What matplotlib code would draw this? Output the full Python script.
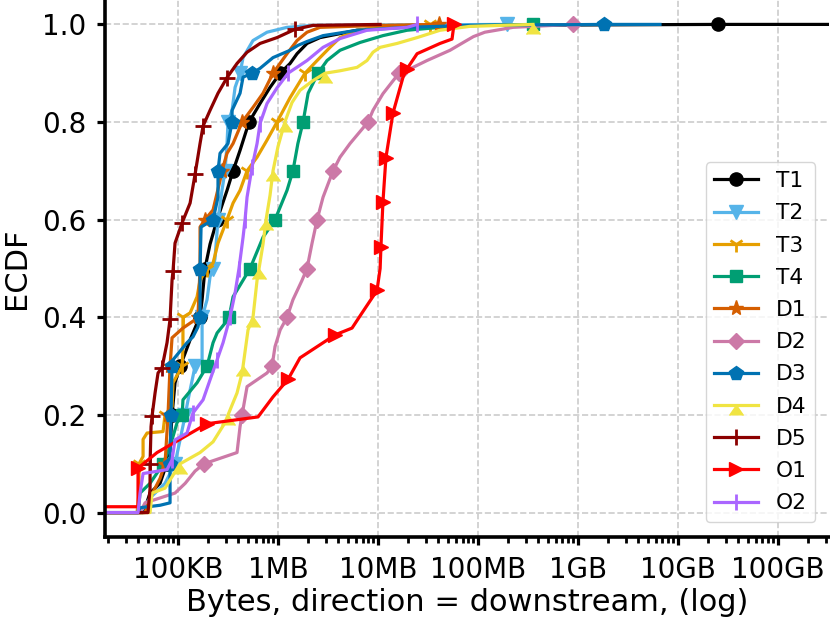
import matplotlib
matplotlib.use("Agg")
import matplotlib.pyplot as plt
import numpy as np

# ---------------- data (bytes, ECDF) ----------------
T1_x = [1.86e4, 4.47e4, 4.68e4, 5.25e4, 6.61e4, 7.41e4, 7.76e4, 8.32e4, 8.71e4, 9.33e4,
        1.05e5, 1.18e5, 1.32e5, 1.55e5, 1.66e5, 1.74e5, 1.86e5, 2.09e5, 2.46e5, 3.09e5,
        3.55e5, 4.17e5, 5.13e5, 6.61e5, 8.32e5, 1.05e6, 1.32e6, 1.55e6, 1.95e6, 2.63e6,
        6.17e6, 1.32e7, 8.32e7, 2.51e10, 3.24e11]
T1_y = [0.0, 0.0, 0.01, 0.04, 0.06, 0.09, 0.10, 0.135, 0.20, 0.266,
        0.30, 0.327, 0.354, 0.388, 0.40, 0.436, 0.50, 0.55, 0.60, 0.66,
        0.70, 0.742, 0.80, 0.838, 0.871, 0.90, 0.92, 0.94, 0.961, 0.973,
        0.988, 0.994, 0.998, 1.0, 1.0]

T2_x = [1.86e4, 4.17e4, 5.25e4, 7.41e4, 9.33e4, 1.05e5, 1.18e5, 1.26e5, 1.48e5, 1.74e5,
        1.74e5, 1.95e5, 2.09e5, 2.24e5, 2.34e5, 2.51e5, 2.75e5, 2.95e5, 3.09e5, 3.16e5,
        3.47e5, 3.72e5, 4.17e5, 4.47e5, 5.62e5, 7.76e5, 1.23e6, 2.24e6, 1.95e8]
T2_y = [0.0, 0.0, 0.03, 0.06, 0.10, 0.15, 0.20, 0.231, 0.30, 0.313,
        0.40, 0.436, 0.483, 0.50, 0.52, 0.60, 0.66, 0.70, 0.756, 0.80,
        0.824, 0.871, 0.90, 0.932, 0.967, 0.984, 0.994, 0.998, 1.0]

T3_x = [1.86e4, 3.89e4, 4.07e4, 4.07e4, 4.47e4, 4.47e4, 4.90e4, 7.08e4, 7.41e4, 8.71e4,
        8.91e4, 1.10e5, 1.12e5, 1.12e5, 1.32e5, 1.55e5, 1.66e5, 1.95e5, 2.24e5, 2.51e5,
        3.09e5, 3.55e5, 4.17e5, 4.90e5, 6.17e5, 7.76e5, 9.77e5, 1.32e6, 1.86e6, 2.46e6,
        3.31e6, 4.17e6, 6.17e6, 1.05e7, 3.31e7]
T3_y = [0.0, 0.0, 0.04, 0.10, 0.115, 0.15, 0.163, 0.166, 0.20, 0.217,
        0.266, 0.30, 0.34, 0.40, 0.409, 0.442, 0.476, 0.50, 0.511, 0.552,
        0.60, 0.634, 0.66, 0.70, 0.728, 0.763, 0.80, 0.85, 0.90, 0.926,
        0.953, 0.973, 0.988, 0.994, 1.0]

T4_x = [1.86e4, 3.98e4, 4.17e4, 5.25e4, 6.61e4, 7.08e4, 8.32e4, 9.77e4, 1.10e5, 1.12e5,
        1.55e5, 1.95e5, 2.24e5, 2.46e5, 2.95e5, 3.24e5, 3.55e5, 4.47e5, 5.25e5, 7.08e5,
        9.33e5, 1.23e6, 1.41e6, 1.58e6, 1.78e6, 2.0e6, 2.51e6, 3.09e6, 4.17e6, 6.61e6,
        1.12e7, 1.95e7, 4.17e7, 1.05e8, 3.55e8]
T4_y = [0.0, 0.0, 0.04, 0.06, 0.09, 0.10, 0.135, 0.184, 0.20, 0.231,
        0.266, 0.30, 0.348, 0.368, 0.388, 0.40, 0.442, 0.476, 0.50, 0.564,
        0.60, 0.66, 0.70, 0.756, 0.80, 0.859, 0.90, 0.926, 0.947, 0.963,
        0.977, 0.988, 0.994, 0.998, 1.0]

D1_x = [1.86e4, 4.68e4, 5.25e4, 6.61e4, 7.41e4, 7.94e4, 8.32e4, 8.71e4, 1.12e5, 1.48e5,
        1.58e5, 1.66e5, 1.66e5, 1.86e5, 2.24e5, 2.63e5, 2.75e5, 3.09e5, 3.55e5, 4.17e5,
        4.37e5, 5.62e5, 7.08e5, 8.91e5, 1.23e6, 1.55e6, 1.95e6, 2.63e6, 1.05e7, 4.07e7]
D1_y = [0.0, 0.0, 0.03, 0.07, 0.10, 0.20, 0.30, 0.358, 0.378, 0.395,
        0.40, 0.50, 0.585, 0.60, 0.62, 0.68, 0.70, 0.736, 0.756, 0.79,
        0.80, 0.83, 0.859, 0.90, 0.94, 0.967, 0.984, 0.994, 0.998, 1.0]

D2_x = [1.86e4, 4.17e4, 4.68e4, 6.61e4, 9.33e4, 1.18e5, 1.48e5, 1.82e5, 3.89e5, 4.17e5,
        4.37e5, 4.90e5, 7.76e5, 8.71e5, 9.33e5, 1.05e6, 1.23e6, 1.41e6, 1.74e6, 1.95e6,
        2.19e6, 2.46e6, 2.82e6, 3.55e6, 4.17e6, 5.25e6, 7.94e6, 8.91e6, 1.12e7, 1.62e7,
        2.24e7, 3.09e7, 5.25e7, 7.41e7, 9.0e7, 1.17e8, 2.24e8, 8.91e8]
D2_y = [0.0, 0.0, 0.02, 0.03, 0.04, 0.06, 0.085, 0.10, 0.123, 0.176,
        0.20, 0.258, 0.286, 0.30, 0.34, 0.374, 0.40, 0.436, 0.476, 0.50,
        0.552, 0.60, 0.646, 0.70, 0.728, 0.756, 0.80, 0.824, 0.858, 0.90,
        0.912, 0.926, 0.947, 0.965, 0.975, 0.984, 0.994, 1.0]

D3_x = [1.86e4, 3.98e4, 4.17e4, 6.61e4, 8.32e4, 8.32e4, 8.51e4, 8.71e4, 8.91e4, 1.23e5,
        1.41e5, 1.58e5, 1.66e5, 1.66e5, 1.70e5, 2.24e5, 2.51e5, 2.51e5, 2.63e5, 3.16e5,
        3.47e5, 3.47e5, 4.17e5, 4.47e5, 5.50e5, 6.61e5, 8.91e5, 1.32e6, 1.58e6, 1.95e6,
        2.82e6, 6.17e6, 1.95e7, 8.32e7, 1.82e9, 6.61e9]
D3_y = [0.0, 0.0, 0.01, 0.015, 0.02, 0.10, 0.20, 0.30, 0.313, 0.348,
        0.36, 0.38, 0.40, 0.50, 0.585, 0.60, 0.646, 0.70, 0.736, 0.756,
        0.80, 0.824, 0.859, 0.892, 0.90, 0.91, 0.932, 0.947, 0.957, 0.965,
        0.977, 0.988, 0.994, 0.998, 1.0, 1.0]

D4_x = [1.86e4, 5.25e4, 5.50e4, 7.41e4, 8.32e4, 1.05e5, 1.66e5, 2.24e5, 2.95e5, 3.16e5,
        3.89e5, 4.37e5, 4.47e5, 5.01e5, 5.62e5, 6.17e5, 6.46e5, 7.08e5, 7.59e5, 8.32e5,
        8.91e5, 1.0e6, 1.17e6, 1.38e6, 1.66e6, 2.24e6, 2.95e6, 4.17e6, 6.17e6, 7.76e6,
        8.91e6, 1.05e7, 1.55e7, 2.46e7, 4.17e7, 8.32e7, 3.55e8]
D4_y = [0.0, 0.0, 0.04, 0.05, 0.067, 0.10, 0.123, 0.145, 0.184, 0.20,
        0.245, 0.286, 0.30, 0.374, 0.40, 0.476, 0.50, 0.55, 0.60, 0.65,
        0.70, 0.75, 0.80, 0.84, 0.865, 0.885, 0.90, 0.905, 0.912, 0.926,
        0.943, 0.953, 0.961, 0.973, 0.988, 0.996, 1.0]

D5_x = [1.86e4, 5.01e4, 5.25e4, 5.25e4, 5.37e4, 5.50e4, 5.89e4, 6.31e4, 6.92e4, 7.76e4,
        8.32e4, 8.71e4, 8.91e4, 9.33e4, 1.10e5, 1.32e5, 1.48e5, 1.66e5, 1.78e5, 2.09e5,
        2.51e5, 3.09e5, 3.89e5, 4.90e5, 6.61e5, 9.77e5, 1.48e6, 2.24e6, 1.05e7]
D5_y = [0.0, 0.0, 0.05, 0.099, 0.176, 0.198, 0.245, 0.286, 0.297, 0.348,
        0.396, 0.476, 0.495, 0.552, 0.594, 0.634, 0.693, 0.756, 0.792, 0.824,
        0.859, 0.891, 0.92, 0.943, 0.961, 0.973, 0.99, 0.998, 1.0]

O1_x = [1.86e4, 3.98e4, 3.98e4, 6.17e4, 1.95e5, 6.31e5, 8.91e5, 1.26e6, 1.66e6, 3.72e6,
        5.50e6, 6.92e6, 9.77e6, 1.05e7, 1.07e7, 1.12e7, 1.20e7, 1.41e7, 1.78e7, 1.95e7,
        2.46e7, 4.17e7, 5.50e7, 5.75e7]
O1_y = [0.012, 0.012, 0.091, 0.123, 0.182, 0.196, 0.237, 0.273, 0.317, 0.364,
        0.378, 0.409, 0.455, 0.50, 0.545, 0.636, 0.727, 0.818, 0.892, 0.909,
        0.94, 0.961, 0.97, 1.0]

O2_x = [1.86e4, 3.98e4, 4.17e4, 4.47e4, 7.76e4, 8.71e4, 9.33e4, 1.23e5, 1.41e5, 1.78e5,
        2.09e5, 2.46e5, 2.82e5, 3.31e5, 3.72e5, 4.07e5, 4.47e5, 4.68e5, 4.90e5, 5.50e5,
        6.17e5, 6.61e5, 7.76e5, 9.77e5, 1.26e6, 1.95e6, 2.82e6, 4.17e6, 7.76e6, 1.95e7,
        2.46e7]
O2_y = [0.0, 0.0, 0.04, 0.08, 0.088, 0.108, 0.149, 0.163, 0.204, 0.231,
        0.272, 0.313, 0.348, 0.40, 0.45, 0.50, 0.564, 0.60, 0.646, 0.708,
        0.756, 0.797, 0.838, 0.87, 0.90, 0.926, 0.953, 0.971, 0.988, 0.994,
        1.0]

labels = ["T1", "T2", "T3", "T4", "D1", "D2", "D3", "D4", "D5", "O1", "O2"]
xs = [T1_x, T2_x, T3_x, T4_x, D1_x, D2_x, D3_x, D4_x, D5_x, O1_x, O2_x]
ys = [T1_y, T2_y, T3_y, T4_y, D1_y, D2_y, D3_y, D4_y, D5_y, O1_y, O2_y]

tick_vals = [1e5, 1e6, 1e7, 1e8, 1e9, 1e10, 1e11]
tick_labels = ["100KB", "1MB", "10MB", "100MB", "1GB", "10GB", "100GB"]

# ---------------- style ----------------
colors = ["#000000", "#56B4E9", "#E69F00", "#009E73", "#D55E00", "#CC79A7",
          "#0072B2", "#F0E442", "#8B0000", "#FF0000", "#AA66FF"]
markers = ["o", "v", "1", "s", "*", "D", "p", 6, "+", ">", "|"]
msizes = [9.5, 10, 11, 9, 11, 8, 10.5, 10, 11, 10, 11]
mews = [1, 1, 2, 1, 1, 1, 1, 1, 2, 1, 2]

fig = plt.figure(figsize=(8.3, 6.2), dpi=100)
ax = fig.add_axes([105 / 830, 83 / 620, 724 / 830, 537 / 620])

for lab, x, y, c, m, ms, mew in zip(labels, xs, ys, colors, markers, msizes, mews):
    y_arr = np.asarray(y)
    if lab == "O1":
        levels = [k / 11 for k in range(1, 12)]
    elif lab == "D5":
        levels = [0.099 * k for k in range(1, 11)]
    else:
        levels = [k / 10 for k in range(1, 11)]
    me = sorted(set(int(np.argmin(np.abs(y_arr - lv))) for lv in levels))
    ax.plot(x, y, color=c, lw=2.3, marker=m, markersize=ms, markeredgewidth=mew,
            markevery=me, label=lab)

ax.set_xscale("log")
ax.set_xlim(1.86e4, 3.24e11)
ax.set_ylim(-0.05, 1.05)
ax.set_xticks(tick_vals)
ax.set_xticklabels(tick_labels)
ax.set_yticks([0.0, 0.2, 0.4, 0.6, 0.8, 1.0])
ax.set_yticklabels(["0.0", "0.2", "0.4", "0.6", "0.8", "1.0"])

ax.grid(True, which="major", ls="--", color="#cccccc", lw=1.2)
for s in ["top", "right"]:
    ax.spines[s].set_visible(False)
for s in ["left", "bottom"]:
    ax.spines[s].set_linewidth(2.6)
    ax.spines[s].set_color("black")

ax.tick_params(axis="both", which="major", labelsize=20, width=2.3, length=5.5, pad=8)
ax.tick_params(axis="x", which="minor", width=2, length=4)

ax.set_xlabel("Bytes, direction = downstream, (log)", fontsize=22, labelpad=3)
ax.set_ylabel("ECDF", fontsize=22, labelpad=8)

ax.legend(loc="lower right", bbox_to_anchor=(0.981, 0.028), borderaxespad=0,
          fontsize=15.7, framealpha=0.8, labelspacing=0.56)

fig.savefig("out.png", dpi=100)
